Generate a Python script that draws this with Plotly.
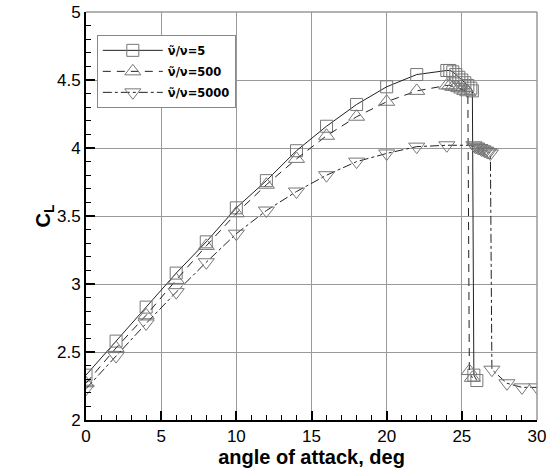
import plotly.graph_objects as go

# ---- data ----
sq_x = [0, 2, 4, 6, 8, 10, 12, 14, 16, 18, 20, 22, 24, 24.2, 24.4, 24.6, 24.8, 25.0, 25.2, 25.4, 25.6, 25.7, 25.8, 26.0]
sq_y = [2.33, 2.58, 2.83, 3.08, 3.31, 3.56, 3.76, 3.98, 4.16, 4.32, 4.45, 4.54, 4.57, 4.57, 4.56, 4.54, 4.52, 4.50, 4.48, 4.46, 4.44, 4.42, 2.33, 2.29]

up_x = [0, 2, 4, 6, 8, 10, 12, 14, 16, 18, 20, 22, 24, 24.2, 24.4, 24.6, 24.8, 25.0, 25.2, 25.4, 25.5, 25.7]
up_y = [2.27, 2.53, 2.77, 3.03, 3.28, 3.52, 3.73, 3.92, 4.09, 4.23, 4.34, 4.42, 4.46, 4.46, 4.45, 4.45, 4.44, 4.43, 4.42, 4.41, 2.36, 2.31]

dn_x = [0, 2, 4, 6, 8, 10, 12, 14, 16, 18, 20, 22, 24, 25.8, 25.9, 26.0, 26.1, 26.2, 26.3, 26.4, 26.5, 26.6, 26.7, 26.8, 26.9, 27, 28, 29, 30]
dn_y = [2.23, 2.47, 2.71, 2.94, 3.16, 3.37, 3.54, 3.68, 3.80, 3.90, 3.96, 4.01, 4.02, 4.02, 4.01, 4.01, 4.00, 4.00, 3.99, 3.99, 3.98, 3.98, 3.97, 3.97, 3.96, 2.37, 2.27, 2.24, 2.24]

names = ["ν̃/ν=5", "ν̃/ν=500", "ν̃/ν=5000"]

x_ticks = [0, 5, 10, 15, 20, 25, 30]
y_ticks = [2, 2.5, 3, 3.5, 4, 4.5, 5]
y_tick_text = ["2", "2.5", "3", "3.5", "4", "4.5", "5"]

# ---- figure ----
line_col = "#222222"
mk_col = "#777777"

fig = go.Figure()
series = [
    (sq_x, sq_y, names[0], "solid", "square-open", 12),
    (up_x, up_y, names[1], "8px,6px", "triangle-up-open", 14),
    (dn_x, dn_y, names[2], "dashdot", "triangle-down-open", 14),
]
for i, (xs, ys, nm, dash, sym, sz) in enumerate(series):
    fig.add_trace(go.Scatter(
        x=xs, y=ys, name="<b>" + nm + "</b>", mode="lines+markers",
        legendgroup="g%d" % i,
        line=dict(color=line_col, width=1, dash=dash),
        marker=dict(symbol=sym, size=sz, color=mk_col, line=dict(color=mk_col, width=1)),
    ))

fig.update_layout(
    width=546, height=476,
    margin=dict(l=86, r=9, t=12, b=56),
    plot_bgcolor="white", paper_bgcolor="white",
    font=dict(family="Liberation Sans, Arial, sans-serif", color="black", size=17),
    showlegend=True,
    legend=dict(
        x=0.024, y=0.944, xanchor="left", yanchor="top",
        bgcolor="white", bordercolor="#888888", borderwidth=1,
        font=dict(size=11.5, family="DejaVu Sans, sans-serif"),
        itemwidth=60, tracegroupgap=2,
    ),
    shapes=[
        dict(type="line", xref="paper", yref="paper", x0=0, x1=1, y0=1, y1=1,
             line=dict(color="#999999", width=1.5)),
        dict(type="line", xref="paper", yref="paper", x0=1, x1=1, y0=0, y1=1,
             line=dict(color="#999999", width=1.5)),
    ],
)

fig.update_xaxes(
    range=[0, 30], tickvals=x_ticks, ticktext=[str(v) for v in x_ticks],
    automargin=False, ticklabeloverflow="allow",
    showline=True, linecolor="black", linewidth=2,
    ticks="inside", ticklen=9, tickwidth=2, tickcolor="black",
    minor=dict(dtick=1, ticks="inside", ticklen=5, tickcolor="black", tickwidth=1, showgrid=False),
    showgrid=True, gridcolor="#999999", gridwidth=1,
    zeroline=False,
    title=dict(text="<b>angle of attack, deg</b>", font=dict(size=20), standoff=2),
)
fig.update_yaxes(
    range=[2, 5], tickvals=y_ticks, ticktext=y_tick_text,
    automargin=False, ticklabeloverflow="allow",
    showline=True, linecolor="black", linewidth=2,
    ticks="inside", ticklen=9, tickwidth=2, tickcolor="black",
    minor=dict(dtick=0.1, ticks="inside", ticklen=5, tickcolor="black", tickwidth=1, showgrid=False),
    showgrid=True, gridcolor="#999999", gridwidth=1,
    zeroline=False,
    title=dict(text="<b>C<sub>L</sub></b>", font=dict(size=20), standoff=1),
)

# remove the browser's default 8px body margin so the figure sits at the page origin
fig.write_html("out.html", config={"displayModeBar": False},
               post_script="document.body.style.margin='0';")
